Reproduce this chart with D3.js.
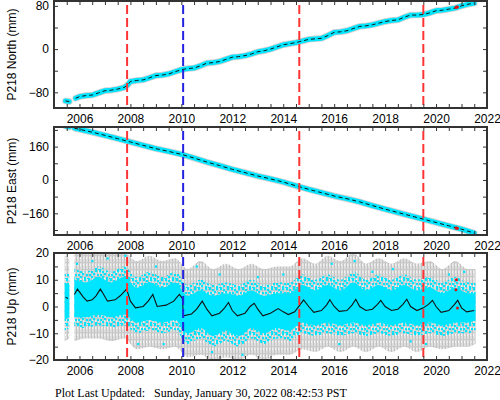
<!DOCTYPE html>
<html>
<head>
<meta charset="utf-8">
<script src="https://cdn.jsdelivr.net/npm/d3@7"></script>
<style>
body { margin: 0; background: #fff; }
svg { display: block; font-family: "Liberation Sans", Arial, sans-serif; }
</style>
</head>
<body>
<div id="chart"></div>
<script>
// station P218, daily solutions (decimal years, mm)
var northT = [2005.45, 2005.6, null, 2005.85, 2006.0, 2006.25, 2006.5, 2006.75, 2007.0, 2007.25, 2007.5, 2007.75, 2007.88,
    2008.0, 2008.25, 2008.5, 2008.75, 2009.0, 2009.25, 2009.5, 2009.75, 2010.0, 2010.25, 2010.5, 2010.75,
    2011.0, 2011.25, 2011.5, 2011.75, 2012.0, 2012.25, 2012.5, 2012.75, 2013.0, 2013.25, 2013.5, 2013.75,
    2014.0, 2014.25, 2014.5, 2014.75, 2015.0, 2015.25, 2015.5, 2015.75, 2016.0, 2016.25, 2016.5, 2016.75,
    2017.0, 2017.25, 2017.5, 2017.75, 2018.0, 2018.25, 2018.5, 2018.75, 2019.0, 2019.25, 2019.5, 2019.75,
    2020.0, 2020.25, 2020.5, 2020.75, 2021.0, 2021.25, 2021.5];
var northV = [-96, -97, null, -91, -88, -86, -85, -81, -77, -76, -74, -71, -67,
    -60, -58, -57, -53, -49, -48, -46, -42, -38, -36, -35, -31,
    -26, -25, -23, -19, -15, -14, -12, -9, -5, -3, 0, 4,
    8, 10, 12, 15, 18, 19, 20, 25, 31, 32, 34, 38,
    42, 43, 45, 48, 51, 53, 54, 59, 63, 63, 64, 67,
    71, 72, 74, 76, 80, 83, 85];

var eastT = [2005.45, 2005.6, null, 2005.8, 2006.0, 2006.5, 2007.0, 2007.5, 2008.0, 2008.5, 2009.0, 2009.5,
    2010.0, 2010.5, 2011.0, 2011.5, 2012.0, 2012.5, 2013.0, 2013.5, 2014.0, 2014.5, 2015.0, 2015.5,
    2016.0, 2016.5, 2017.0, 2017.5, 2018.0, 2018.5, 2019.0, 2019.5, 2020.0, 2020.5, 2021.0, 2021.5];
var eastV = [258, 254, null, 248, 243, 229, 214, 198, 182, 166, 150, 137,
    123, 105, 86, 69, 51, 35, 19, 5, -10, -28, -45, -61,
    -77, -90, -105, -123, -140, -156, -172, -188, -204, -220, -236, -255];

// smoothed vertical (black line)
var upT = [2005.45, 2005.55, null, 2005.8, 2005.92, 2006.15, 2006.3, 2006.5, 2006.65, 2006.82, 2006.95, 2007.1,
    2007.4, 2007.6, 2007.85, 2008.0, 2008.2, 2008.5, 2008.7, 2008.88, 2009.05, 2009.4, 2009.7, 2009.92,
    2010.04, 2010.08, 2010.4, 2010.6, 2010.82, 2011.0, 2011.2, 2011.5, 2011.7, 2011.85, 2012.0, 2012.2,
    2012.5, 2012.7, 2012.86, 2013.0, 2013.2, 2013.5, 2013.8, 2014.0, 2014.2, 2014.45, 2014.65, 2014.8,
    2015.0, 2015.2, 2015.5, 2015.7, 2015.83, 2016.0, 2016.2, 2016.5, 2016.7, 2016.85, 2017.0, 2017.25,
    2017.5, 2017.7, 2017.83, 2018.0, 2018.25, 2018.5, 2018.7, 2018.85, 2019.0, 2019.25, 2019.5, 2019.7,
    2019.86, 2020.0, 2020.2, 2020.5, 2020.7, 2020.85, 2021.0, 2021.2, 2021.5];
var upV = [3.5, 3.0, null, 4.5, 6.5, 3.5, 2.0, 2.5, 4.0, 6.5, 4.5, 2.0,
    2.5, 4.0, 6.5, 2.0, -0.5, 0.0, 2.0, 4.5, 0.0, 0.5, 2.0, 4.5,
    3.0, -3.5, -2.8, -1.0, 2.0, -1.0, -3.5, -2.5, -0.5, 1.5, -1.5, -3.5,
    -2.5, 0.0, 1.2, -1.0, -3.5, -2.5, -0.8, -2.0, -3.0, -2.0, 0.5, 2.5,
    0.0, -2.2, -1.5, 0.5, 2.5, 0.0, -1.8, -1.5, 0.5, 2.7, 0.0, -1.5,
    -1.0, 0.8, 2.3, 0.0, -1.5, -1.0, 0.8, 2.7, 0.0, -1.5, -0.5, 0.8,
    2.3, 0.0, -2.2, -1.5, 0.5, 2.3, -0.5, -2.0, -1.5];

// spread of the vertical points: dense core, sparse fringe (cyan), error bars (grey)
var spreadT = [2005.42, 2005.6, null, 2005.8, 2006.25, 2006.75, 2007.25, 2007.75, 2008.25, 2008.75, 2009.25, 2009.75,
    2010.25, 2010.75, 2011.25, 2011.75, 2012.25, 2012.75, 2013.25, 2013.75, 2014.25, 2014.75, 2015.25,
    2015.75, 2016.25, 2016.75, 2017.25, 2017.75, 2018.25, 2018.75, 2019.25, 2019.75, 2020.25, 2020.75,
    2021.25, 2021.55];
var coreLo = [-5, -4, null, -4, -4, -3, -4, -3, -6, -5, -6, -5, -10, -8, -11, -9, -11, -8, -10, -8, -9, -6, -7,
    -6, -7, -6, -7, -6, -7, -6, -7, -6, -7, -6, -6, -5];
var coreHi = [9, 8, null, 10, 9, 11, 9, 11, 7, 9, 7, 9, 4, 6, 4, 5, 4, 6, 4, 5, 5, 8, 6,
    8, 6, 9, 6, 8, 6, 8, 6, 7, 5, 7, 5, 5];
var ptsLo = [-9, -8, null, -8, -8, -7, -8, -7, -10, -9, -10, -9, -14, -12, -15, -13, -15, -12, -14, -12, -13, -10, -11,
    -10, -11, -10, -11, -10, -11, -10, -11, -10, -11, -10, -10, -9];
var ptsHi = [13, 12, null, 14, 13, 15, 13, 15, 11, 13, 11, 13, 8, 10, 8, 9, 8, 10, 8, 9, 9, 12, 10,
    12, 10, 13, 10, 12, 10, 12, 10, 11, 9, 11, 9, 9];
var barLo = [-13, -12, null, -13, -12, -12, -13, -12, -16, -15, -16, -15, -19, -18, -20, -19, -20, -18, -20, -18, -18, -16, -17,
    -15, -17, -15, -17, -15, -17, -15, -17, -15, -16, -15, -15, -14];
var barHi = [19, 18, null, 20, 20, 20, 20, 20, 17, 19, 17, 18, 14, 17, 14, 16, 14, 16, 14, 15, 15, 18, 16,
    19, 17, 20, 16, 18, 16, 18, 16, 17, 14, 17, 14, 14];

// scattered vertical points outside the band
var strayT = [2005.9, 2006.5, 2007.1, 2007.8, 2008.3, 2009.0, 2009.3, 2010.6, 2011.2, 2011.5, 2012.4, 2013.0,
    2014.0, 2015.9, 2016.2, 2016.8, 2017.5, 2018.3, 2019.0, 2019.6, 2020.5, 2021.1];
var strayV = [16, 17, 18, 19, -14, 15, -14, 15, -17, 12, -18, 11, 12, 16, -14, 17, 13, 14, -13, -14, 12, 13];

// rejected points (red)
var rejectT = [2020.8, 2020.78, 2020.84];
var rejectN = [78, 77, 78];
var rejectE = [-231, -230, -232];
var rejectU = [10, 6.3, -0.6];

// offsets: earthquakes / equipment changes
var eventT = [2007.87, 2010.07, 2014.63, 2019.5];
var eventKind = ['red', 'blue', 'red', 'red'];

var W = 500, H = 400;
var left = 54, right = 487;
var cyan = '#00e5ff', frame = '#333';
var eventColor = { red: '#ff3535', blue: '#2323e0' };

var x = d3.scaleLinear().domain([2005, 2022]).range([left, right]);

var svg = d3.select('#chart').append('svg').attr('width', W).attr('height', H);
var defs = svg.append('defs');

// dense error bars: fine light hatch
var pat = defs.append('pattern').attr('id', 'bars').attr('patternUnits', 'userSpaceOnUse')
    .attr('width', 3).attr('height', 7);
pat.append('rect').attr('width', 3).attr('height', 7).attr('fill', '#dedede');
pat.append('rect').attr('x', 1).attr('width', 1).attr('height', 7).attr('fill', '#c2c2c2');
pat.append('rect').attr('x', 0).attr('y', 3).attr('width', 3).attr('height', 1).attr('fill', '#cacaca');
pat.append('rect').attr('x', 2).attr('y', 5).attr('width', 1).attr('height', 2).attr('fill', '#f2f2f2');

// sparse fringe of points: irregular cyan specks
var spk = defs.append('pattern').attr('id', 'specks').attr('patternUnits', 'userSpaceOnUse')
    .attr('width', 11).attr('height', 9);
[[0, 0], [3, 1], [7, 0], [5, 3], [9, 4], [1, 4], [3, 6], [7, 7], [10, 8], [0, 8]].forEach(function(c) {
    spk.append('rect').attr('x', c[0]).attr('y', c[1]).attr('width', 2.2).attr('height', 2.2).attr('fill', cyan);
});

function pairs(t, v) {
    return t.map(function(d, i) { return { t: d, v: v[i] }; });
}

var panels = [
    { name: 'P218 North (mm)', top: 1, bottom: 108, domain: [-109, 89], step: 40, labels: [-80, 0, 80] },
    { name: 'P218 East (mm)', top: 127, bottom: 235, domain: [-264, 254], step: 80, labels: [-160, 0, 160] },
    { name: 'P218 Up (mm)', top: 253, bottom: 360, domain: [-20, 20], step: 5, labels: [-20, -10, 0, 10, 20] }
];

panels.forEach(function(p, i) {
    var y = d3.scaleLinear().domain(p.domain).range([p.bottom, p.top]);
    var g = svg.append('g');

    defs.append('clipPath').attr('id', 'clip' + i).append('rect')
        .attr('x', left).attr('y', p.top).attr('width', right - left).attr('height', p.bottom - p.top);
    var plot = g.append('g').attr('clip-path', 'url(#clip' + i + ')');

    var line = d3.line().defined(function(d) { return d.t != null; })
        .x(function(d) { return x(d.t); }).y(function(d) { return y(d.v); });

    if (i < 2) {
        var data = i == 0 ? pairs(northT, northV) : pairs(eastT, eastV);
        plot.append('path').datum(data).attr('d', line)
            .attr('fill', 'none').attr('stroke', '#d2d2d2').attr('stroke-width', 6.5).attr('stroke-linecap', 'round');
        plot.append('path').datum(data).attr('d', line)
            .attr('fill', 'none').attr('stroke', cyan).attr('stroke-width', 4.8).attr('stroke-linecap', 'round');
        plot.append('path').datum(data).attr('d', line)
            .attr('fill', 'none').attr('stroke', '#111').attr('stroke-width', 1).attr('stroke-dasharray', '4,3');
        plot.selectAll('.rej').data(pairs(rejectT, i == 0 ? rejectN : rejectE)).enter().append('circle')
            .attr('cx', function(d) { return x(d.t); }).attr('cy', function(d) { return y(d.v); })
            .attr('r', 1.5).attr('fill', '#e01010');
    } else {
        var spread = spreadT.map(function(d, k) {
            return { t: d, clo: coreLo[k], chi: coreHi[k], plo: ptsLo[k], phi: ptsHi[k], blo: barLo[k], bhi: barHi[k] };
        });
        var defined = function(d) { return d.t != null; };
        function band(lo, hi) {
            return d3.area().defined(defined).curve(d3.curveMonotoneX).x(function(d) { return x(d.t); })
                .y0(function(d) { return y(d[lo]); }).y1(function(d) { return y(d[hi]); });
        }
        plot.append('path').datum(spread).attr('d', band('blo', 'bhi')).attr('fill', 'url(#bars)');
        plot.append('path').datum(spread).attr('d', band('plo', 'phi')).attr('fill', 'url(#specks)');
        plot.append('path').datum(spread).attr('d', band('clo', 'chi')).attr('fill', cyan);
        plot.selectAll('.stray').data(pairs(strayT, strayV)).enter().append('rect')
            .attr('x', function(d) { return x(d.t) - 1; }).attr('y', function(d) { return y(d.v) - 1; })
            .attr('width', 2.2).attr('height', 2.2).attr('fill', cyan);
        plot.append('path').datum(pairs(upT, upV)).attr('d', line)
            .attr('fill', 'none').attr('stroke', '#111').attr('stroke-width', 1.1);
        plot.selectAll('.rej').data(pairs(rejectT, rejectU)).enter().append('circle')
            .attr('cx', function(d) { return x(d.t); }).attr('cy', function(d) { return y(d.v); })
            .attr('r', 1.5).attr('fill', '#e01010');
    }

    // offset markers
    plot.selectAll('.event').data(eventT).enter().append('line')
        .attr('x1', function(d) { return x(d); }).attr('x2', function(d) { return x(d); })
        .attr('y1', p.top + 4).attr('y2', p.bottom)
        .attr('stroke', function(d, k) { return eventColor[eventKind[k]]; })
        .attr('stroke-width', 2).attr('stroke-dasharray', '9,4');

    // axes, ticks pointing inward
    var xt = d3.range(2005, 2022.01, 0.5);
    var yt = d3.range(Math.ceil(p.domain[0] / p.step) * p.step, p.domain[1] + 0.01, p.step);
    var fmt = d3.format('d');

    var ax = g.append('g').attr('transform', 'translate(0,' + p.bottom + ')')
        .call(d3.axisBottom(x).tickValues(xt).tickSizeInner(-4).tickSizeOuter(0).tickPadding(6)
            .tickFormat(function(d) { return d % 2 == 0 && d > 2005 ? fmt(d) : ''; }));
    var axT = g.append('g').attr('transform', 'translate(0,' + p.top + ')')
        .call(d3.axisTop(x).tickValues(xt).tickSizeInner(-4).tickSizeOuter(0).tickFormat(''));
    var ay = g.append('g').attr('transform', 'translate(' + left + ',0)')
        .call(d3.axisLeft(y).tickValues(yt).tickSizeInner(-4).tickSizeOuter(0).tickPadding(5)
            .tickFormat(function(d) { return p.labels.indexOf(d) >= 0 ? fmt(d) : ''; }));
    var ayR = g.append('g').attr('transform', 'translate(' + right + ',0)')
        .call(d3.axisRight(y).tickValues(yt).tickSizeInner(-4).tickSizeOuter(0).tickFormat(''));

    [ax, axT, ay, ayR].forEach(function(a) {
        a.select('.domain').remove();
        a.selectAll('line').attr('stroke', frame).attr('stroke-width', 1);
        a.selectAll('text').attr('fill', '#000').style('font-size', '12px')
            .style('font-family', '"Liberation Sans", Arial, sans-serif');
    });

    g.append('rect').attr('x', left).attr('y', p.top).attr('width', right - left).attr('height', p.bottom - p.top)
        .attr('fill', 'none').attr('stroke', frame).attr('stroke-width', 2);

    g.append('text').text(p.name)
        .attr('transform', 'translate(16,' + ((p.top + p.bottom) / 2) + ') rotate(-90)')
        .attr('text-anchor', 'middle').style('font-size', '12px');
});

svg.append('text').text('Plot Last Updated:   Sunday, January 30, 2022 08:42:53 PST')
    .attr('x', 55).attr('y', 397).style('white-space', 'pre')
    .style('font-family', '"Liberation Serif", "Times New Roman", serif').style('font-size', '12px');
</script>
</body>
</html>
